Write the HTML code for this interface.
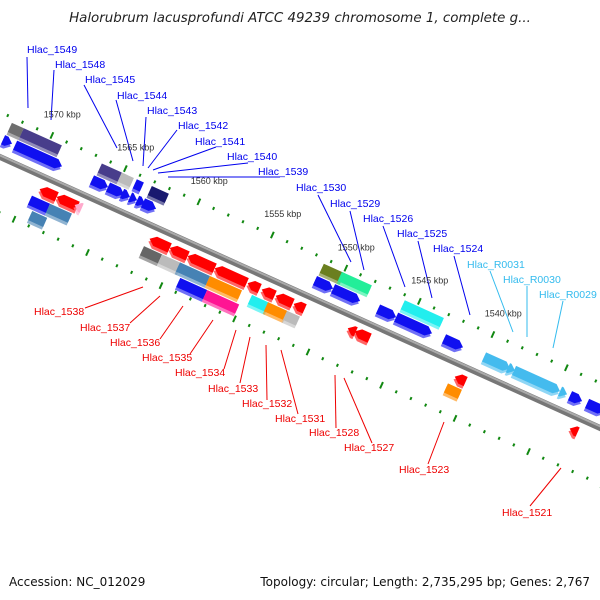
<!DOCTYPE html>
<html><head><meta charset="utf-8">
<style>
html,body{margin:0;padding:0;background:#fff;}
svg{display:block;font-family:"Liberation Sans","DejaVu Sans",sans-serif;}
</style></head>
<body>
<svg id="chart" width="600" height="600" viewBox="0 0 600 600">
<text x="300" y="22" text-anchor="middle" font-size="13.4" font-style="italic" fill="#222" style="font-family:'DejaVu Sans',sans-serif">Halorubrum lacusprofundi ATCC 49239 chromosome 1, complete g...</text>
<g id="leaders"></g>
<g id="frame" transform="translate(0,157) rotate(24.3)"></g>
<g id="labels"></g>
<text x="9" y="586" font-size="12" fill="#111" style="font-family:'DejaVu Sans',sans-serif">Accession: NC_012029</text>
<text x="590" y="586" font-size="12" fill="#111" text-anchor="end" style="font-family:'DejaVu Sans',sans-serif">Topology: circular; Length: 2,735,295 bp; Genes: 2,767</text>
</svg>
<script>
// gene data (kbp)
const geneStart = [1572.65,1571.83,1566.60,1565.51,1564.55,1564.01,1563.53,1563.13,1551.43,1550.20,1547.14,1545.91,1542.65,1539.93,1538.30,1537.89,1534.76,1534.08,1532.92,
  1572.58,1571.77,1566.46,1565.10,1564.08,1563.06,1551.36,1550.13,1545.85,
  1569.32,1568.16,1566.94,1561.84,1560.47,1559.25,1557.41,1555.17,1554.21,1553.26,1552.04,1548.36,1547.89,1541.08,1533.26,
  1569.59,1568.36,1561.97,1560.74,1559.52,1557.48,1554.62,1553.53,1552.24,1541.29,
  1569.18,1559.11,1557.28];
const geneEnd = [1572.04,1568.64,1565.51,1564.42,1564.01,1563.53,1562.99,1562.24,1550.20,1548.36,1545.91,1543.47,1541.36,1538.16,1537.82,1534.76,1534.28,1533.26,1531.70,
  1571.77,1569.18,1565.10,1564.28,1563.60,1561.90,1549.93,1548.09,1543.19,
  1568.16,1566.73,1566.46,1560.47,1559.25,1557.41,1555.23,1554.35,1553.33,1552.11,1551.29,1547.82,1546.87,1540.34,1532.72,
  1568.36,1566.87,1560.74,1559.38,1557.48,1555.30,1553.40,1552.17,1551.36,1540.34,
  1568.16,1557.28,1555.10];
const geneTrack = [-1,-1,-1,-1,-1,-1,-1,-1,-1,-1,-1,-1,-1,-1,-1,-1,-1,-1,-1,
  -2,-2,-2,-2,-2,-2,-2,-2,-2,
  1,1,1,1,1,1,1,1,1,1,1,1,1,1,1,
  2,2,2,2,2,2,2,2,2,2,
  3,3,3];
const geneStrand = [1,1,1,1,1,1,1,1,1,1,1,1,1,1,1,1,1,1,1,
  0,0,0,0,0,0,0,0,0,
  -1,-1,-1,-1,-1,-1,-1,-1,-1,-1,-1,-1,-1,-1,-1,
  0,0,0,0,0,0,0,0,0,0,
  0,0,0];
const geneColor = ["#1010f0","#1010f0","#1010f0","#1010f0","#1010f0","#1010f0","#1010f0","#1010f0","#1010f0","#1010f0","#1010f0","#1010f0","#1010f0","#44bbee","#44bbee","#44bbee","#44bbee","#1010f0","#1010f0",
  "#6e6e6e","#483d8b","#483d8b","#bbbbbb","#1010f0","#191970","#6b7f1f","#22ee99","#22eeee",
  "#ff0000","#ff0000","#ffaacc","#ff0000","#ff0000","#ff0000","#ff0000","#ff0000","#ff0000","#ff0000","#ff0000","#ff0000","#ff0000","#ff0000","#ff0000",
  "#1010f0","#4682b4","#666666","#bbbbbb","#4682b4","#ff8c00","#22eeee","#ff8c00","#bbbbbb","#ff8c00",
  "#4682b4","#1010f0","#ff1493"];
const tickKbp = [1540,1545,1550,1555,1560,1565,1570];
const tickLabels = ["1540 kbp","1545 kbp","1550 kbp","1555 kbp","1560 kbp","1565 kbp","1570 kbp"];

const COS = Math.cos(24.3*Math.PI/180), SIN = Math.sin(24.3*Math.PI/180);
function uScale(k){ return (35 + (1570 - k) * 14.7) / COS; }
function toScreen(u, v){ return [u*COS - v*SIN, 157 + u*SIN + v*COS]; }
const trackV = {"-2":-31,"-1":-17,"1":13,"2":27,"3":41};
const NS = "http://www.w3.org/2000/svg";
const frame = document.getElementById("frame");

// dotted scale lines
[-41, 51].forEach(function(v){
  for (let k = 1575; k >= 1530; k--) {
    const u = uScale(k);
    const major = (k % 5 === 0);
    const len = major ? 7 : 3;
    const l = document.createElementNS(NS, "line");
    l.setAttribute("x1", u); l.setAttribute("x2", u);
    l.setAttribute("y1", v - len/2); l.setAttribute("y2", v + len/2);
    l.setAttribute("stroke", "#118811"); l.setAttribute("stroke-width", "2");
    
    
    frame.appendChild(l);
  }
});

// backbone
const bb = document.createElementNS(NS, "line");
bb.setAttribute("x1", -20); bb.setAttribute("x2", 720); bb.setAttribute("y1", 0); bb.setAttribute("y2", 0);
bb.setAttribute("stroke", "#777"); bb.setAttribute("stroke-width", "6");


frame.appendChild(bb);
const bb2 = document.createElementNS(NS, "line");
bb2.setAttribute("x1", -20); bb2.setAttribute("x2", 720); bb2.setAttribute("y1", -1.5); bb2.setAttribute("y2", -1.5);
bb2.setAttribute("stroke", "#aaa"); bb2.setAttribute("stroke-width", "2");


frame.appendChild(bb2);

function shapePts(u1, u2, c, h, strand){
  const a = Math.min(6, u2 - u1);
  const t = c - h/2, b = c + h/2;
  if (strand === 1) return [[u1,t],[u2-a,t],[u2,c],[u2-a,b],[u1,b]];
  if (strand === -1) return [[u1,c],[u1+a,t],[u2,t],[u2,b],[u1+a,b]];
  return [[u1,t],[u2,t],[u2,b],[u1,b]];
}
for (let i = 0; i < geneStart.length; i++) {
  const u1 = uScale(geneStart[i]), u2 = uScale(geneEnd[i]);
  const c = trackV[geneTrack[i]];
  const h = 10;
  const pts = shapePts(Math.min(u1,u2), Math.max(u1,u2), c, h, geneStrand[i]);
  const sh = document.createElementNS(NS, "polygon");
  sh.setAttribute("points", pts.map(p => p[0] + "," + (p[1] + 3)).join(" "));
  sh.setAttribute("fill", geneColor[i]); sh.setAttribute("opacity", "0.6");
  
  
  frame.appendChild(sh);
  const g = document.createElementNS(NS, "polygon");
  g.setAttribute("points", pts.map(p => p[0] + "," + p[1]).join(" "));
  g.setAttribute("fill", geneColor[i]);
  
  
  frame.appendChild(g);
}

// kbp labels
const svg = document.getElementById("chart");
for (let i = 0; i < tickKbp.length; i++) {
  const p = toScreen(uScale(tickKbp[i]), -42);
  const t = document.createElementNS(NS, "text");
  t.setAttribute("x", p[0] + 10); t.setAttribute("y", p[1] - 17);
  t.setAttribute("text-anchor", "middle"); t.setAttribute("font-size", "9"); t.setAttribute("fill", "#333");
  t.textContent = tickLabels[i];
  
  
  svg.appendChild(t);
}

// gene name labels with leader lines (screen coords)
const labelNames = ["Hlac_1549","Hlac_1548","Hlac_1545","Hlac_1544","Hlac_1543","Hlac_1542","Hlac_1541","Hlac_1540","Hlac_1539","Hlac_1530","Hlac_1529","Hlac_1526","Hlac_1525","Hlac_1524","Hlac_R0031","Hlac_R0030","Hlac_R0029",
  "Hlac_1538","Hlac_1537","Hlac_1536","Hlac_1535","Hlac_1534","Hlac_1533","Hlac_1532","Hlac_1531","Hlac_1528","Hlac_1527","Hlac_1523","Hlac_1521"];
const labelColor = ["#0000ee","#0000ee","#0000ee","#0000ee","#0000ee","#0000ee","#0000ee","#0000ee","#0000ee","#0000ee","#0000ee","#0000ee","#0000ee","#0000ee","#33bbee","#33bbee","#33bbee",
  "#ee0000","#ee0000","#ee0000","#ee0000","#ee0000","#ee0000","#ee0000","#ee0000","#ee0000","#ee0000","#ee0000","#ee0000"];
const labelPos = [[27,53],[55,68],[85,83],[117,99],[147,114],[178,129],[195,145],[227,160],[258,175],[296,191],[330,207],[363,222],[397,237],[433,252],[467,268],[503,283],[539,298],
  [34,315],[80,331],[110,346],[142,361],[175,376],[208,392],[242,407],[275,422],[309,436],[344,451],[399,473],[502,516]];
const leaderPts = [[[27,57],[28,108]],[[54,70],[51,120]],[[84,85],[117,148]],[[116,100],[133,161]],[[146,117],[143,166]],[[177,130],[148,168]],[[216,147],[153,170]],[[248,163],[158,173]],[[280,177],[168,177]],
  [[318,195],[351,262]],[[350,211],[364,270]],[[383,226],[405,287]],[[418,241],[432,298]],[[454,256],[470,315]],[[490,271],[513,332]],[[527,286],[527,337]],[[563,301],[553,348]],
  [[85,308],[143,287]],[[130,323],[160,296]],[[160,339],[183,306]],[[190,354],[213,320]],[[224,369],[236,330]],[[240,383],[250,337]],[[267,400],[266,345]],[[298,414],[281,350]],[[336,428],[335,375]],[[372,443],[344,378]],[[428,464],[444,422]],[[530,506],[561,468]]];
const leaders = document.getElementById("leaders");
const labels = document.getElementById("labels");
for (let i = 0; i < labelNames.length; i++) {
  const l = document.createElementNS(NS, "line");
  l.setAttribute("x1", leaderPts[i][0][0]); l.setAttribute("y1", leaderPts[i][0][1]);
  l.setAttribute("x2", leaderPts[i][1][0]); l.setAttribute("y2", leaderPts[i][1][1]);
  l.setAttribute("stroke", labelColor[i]); l.setAttribute("stroke-width", "1");
  
  
  leaders.appendChild(l);
  const t = document.createElementNS(NS, "text");
  t.setAttribute("x", labelPos[i][0]); t.setAttribute("y", labelPos[i][1]);
  t.setAttribute("font-size", "10.5"); t.setAttribute("fill", labelColor[i]);
  t.textContent = labelNames[i];
  
  
  labels.appendChild(t);
}
</script>
</body></html>
